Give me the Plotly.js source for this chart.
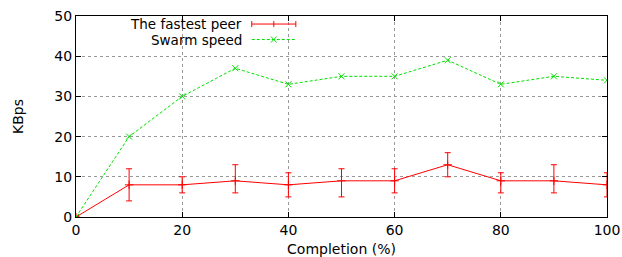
<!DOCTYPE html>
<html>
<head>
<meta charset="utf-8">
<script src="https://cdn.plot.ly/plotly-3.0.1.min.js"></script>
<style>html,body{margin:0;padding:0;background:#fff}#chart{width:622px;height:257px}</style>
</head>
<body>
<div id="chart"></div>
<script>
const completion = [0, 10, 20, 30, 40, 50, 60, 70, 80, 90, 100];
const fastestPeer = [0, 8, 8, 9, 8, 9, 9, 13, 9, 9, 8];
const fastestHigh = [0, 12, 10, 13, 11, 12, 12, 16, 11, 13, 11];
const fastestLow = [0, 4, 6, 6, 5, 5, 6, 10, 6, 6, 5];
const swarmSpeed = [0, 20, 30, 37, 33, 35, 35, 39, 33, 35, 34];
const seriesNames = ["The fastest peer", "Swarm speed"];
const xTicks = [0, 20, 40, 60, 80, 100];
const yTicks = [0, 10, 20, 30, 40, 50];

const red = "#ff0000", green = "#00e000";
const font = "DejaVu Sans, Verdana, sans-serif";
const fsize = 14;

const traces = [
  {
    x: completion, y: fastestPeer, name: seriesNames[0], type: "scatter", mode: "lines+markers",
    line: {color: red, width: 1},
    marker: {symbol: "cross-thin", size: 6, line: {color: red, width: 1}},
    error_y: {type: "data", symmetric: false,
      array: fastestHigh.map((h, i) => h - fastestPeer[i]),
      arrayminus: fastestPeer.map((v, i) => v - fastestLow[i]),
      color: red, thickness: 1, width: 3}
  },
  {
    x: completion, y: swarmSpeed, name: seriesNames[1], type: "scatter", mode: "lines+markers",
    line: {color: green, width: 1, dash: "3px,2px"},
    marker: {symbol: "x-thin", size: 6, line: {color: green, width: 1}}
  }
];

const axisCommon = {
  showline: true, mirror: "ticks", linecolor: "#000", linewidth: 1,
  ticks: "inside", ticklen: 5, tickcolor: "#000",
  showgrid: true, gridcolor: "#999", griddash: "dot", gridwidth: 1,
  zeroline: false, tickfont: {family: font, size: fsize, color: "#000"}
};

const legY1 = 0.960, legY2 = 0.883;

const layout = {
  width: 622, height: 257,
  margin: {l: 76, r: 15, t: 16, b: 40},
  paper_bgcolor: "#fff", plot_bgcolor: "#fff",
  showlegend: false,
  xaxis: Object.assign({}, axisCommon, {
    range: [0, 100], tickvals: xTicks, ticktext: xTicks.map(String),
    title: {text: "Completion (%)", font: {family: font, size: fsize, color: "#000"}, standoff: 8}
  }),
  yaxis: Object.assign({}, axisCommon, {
    range: [0, 50], tickvals: yTicks, ticktext: yTicks.map(String),
    title: {text: "KBps", font: {family: font, size: fsize, color: "#000"}, standoff: 27}
  }),
  annotations: [
    {xref: "paper", yref: "paper", x: 0.314, y: legY1, xanchor: "right", yanchor: "middle", borderpad: 0,
     text: seriesNames[0], showarrow: false, font: {family: font, size: 13.5, color: "#000"}},
    {xref: "paper", yref: "paper", x: 0.314, y: legY2, xanchor: "right", yanchor: "middle", borderpad: 0,
     text: seriesNames[1], showarrow: false, font: {family: font, size: 13.5, color: "#000"}}
  ],
  shapes: [
    {type: "line", xref: "paper", yref: "paper", x0: 0.331, x1: 0.414, y0: legY1, y1: legY1, line: {color: red, width: 1}},
    {type: "line", xref: "paper", yref: "paper", x0: 0.331, x1: 0.331, y0: legY1 - 0.015, y1: legY1 + 0.015, line: {color: red, width: 1}},
    {type: "line", xref: "paper", yref: "paper", x0: 0.414, x1: 0.414, y0: legY1 - 0.015, y1: legY1 + 0.015, line: {color: red, width: 1}},
    {type: "line", xref: "paper", yref: "paper", x0: 0.3725, x1: 0.3725, y0: legY1 - 0.015, y1: legY1 + 0.015, line: {color: red, width: 1}},
    {type: "line", xref: "paper", yref: "paper", x0: 0.331, x1: 0.414, y0: legY2, y1: legY2, line: {color: green, width: 1, dash: "3px,2px"}},
    {type: "line", xref: "paper", yref: "paper", x0: 0.367, x1: 0.378, y0: legY2 - 0.015, y1: legY2 + 0.015, line: {color: green, width: 1}},
    {type: "line", xref: "paper", yref: "paper", x0: 0.367, x1: 0.378, y0: legY2 + 0.015, y1: legY2 - 0.015, line: {color: green, width: 1}}
  ]
};

Plotly.newPlot("chart", traces, layout, {staticPlot: true, displayModeBar: false});
</script>
</body>
</html>
